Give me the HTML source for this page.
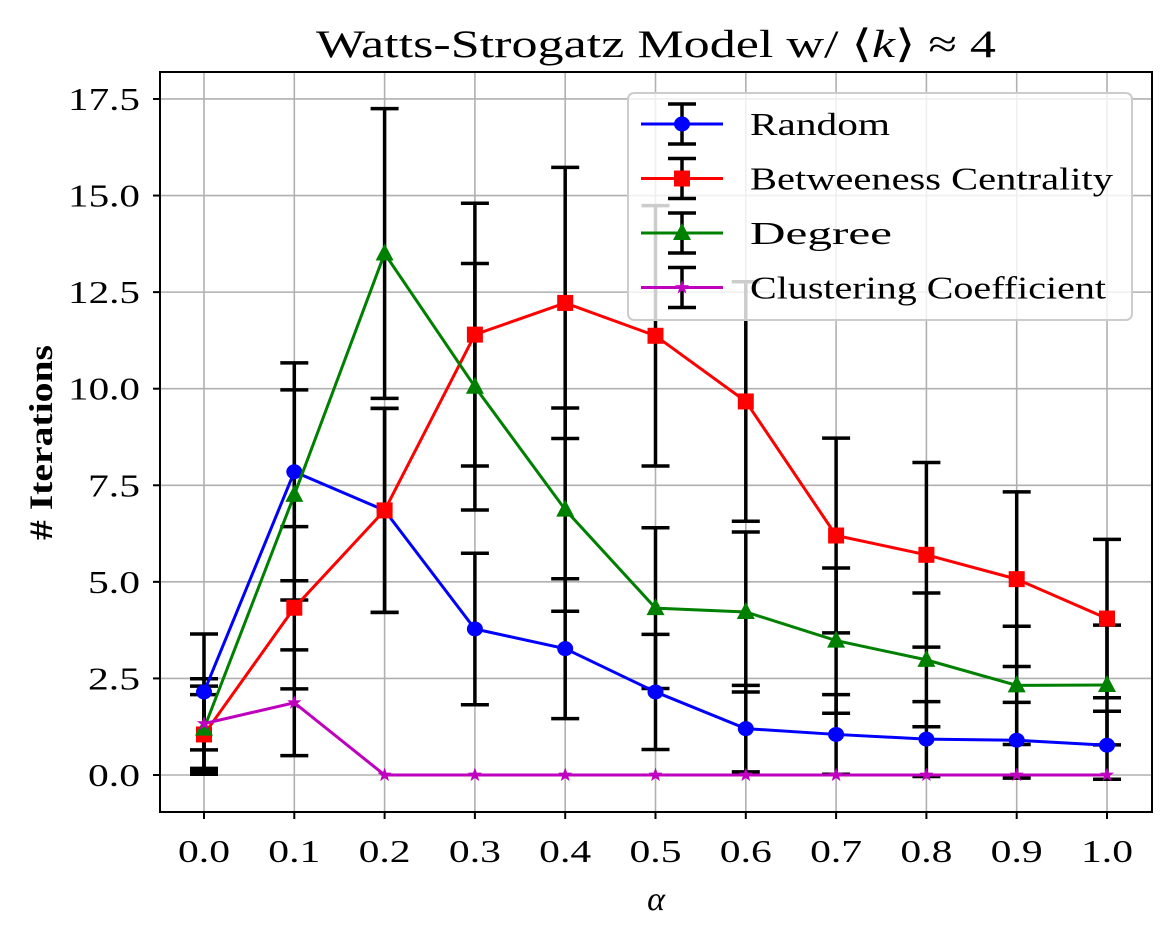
<!DOCTYPE html>
<html><head><meta charset="utf-8"><style>
body{margin:0;background:#fff}
svg text{font-family:"Liberation Serif",serif;fill:#000}
</style></head><body>
<svg id="chart" width="1171" height="937" xmlns="http://www.w3.org/2000/svg">
<g id="grid"></g>
<g id="series"></g>
<rect x="160" y="72" width="992" height="740" fill="none" stroke="#000" stroke-width="2"/>
<g id="ticks"></g>
<text x="316" y="57" font-size="39" textLength="680" lengthAdjust="spacingAndGlyphs">Watts-Strogatz Model w/ ⟨<tspan font-style="italic">k</tspan>⟩ ≈ 4</text>
<text x="656" y="910" font-size="34" font-style="italic" text-anchor="middle">α</text>
<text transform="translate(52,540) rotate(-90)" font-size="33" font-weight="bold" textLength="195" lengthAdjust="spacingAndGlyphs"># Iterations</text>
<g id="legend"></g>
</svg>
<script>
const xs=[0,0.1,0.2,0.3,0.4,0.5,0.6,0.7,0.8,0.9,1.0];
const xTicks=["0.0","0.1","0.2","0.3","0.4","0.5","0.6","0.7","0.8","0.9","1.0"];
const yTicks=[0,2.5,5,7.5,10,12.5,15,17.5];
const yTickLabels=["0.0","2.5","5.0","7.5","10.0","12.5","15.0","17.5"];
const seriesNames=["Random","Betweeness Centrality","Degree","Clustering Coefficient"];
const randomVals=[2.15,7.85,6.85,3.78,3.27,2.15,1.2,1.05,0.93,0.9,0.77];
const randomErr=[1.5,2.82,2.64,1.96,1.81,1.49,1.12,1.03,0.97,0.98,0.88];
const betwVals=[1.05,4.33,6.85,11.4,12.22,11.37,9.67,6.2,5.7,5.07,4.05];
const betwErr=[1.03,2.1,2.64,3.4,3.51,3.37,3.1,2.52,2.39,2.26,2.05];
const degVals=[1.2,7.25,13.5,10.05,6.87,4.32,4.22,3.48,2.98,2.32,2.33];
const degErr=[1.1,2.72,3.75,3.19,2.63,2.08,2.07,1.88,1.73,1.53,1.55];
const clusVals=[1.33,1.87,0,0,0,0,0,0,0,0,0];
const clusErr=[1.16,1.37,0,0,0,0,0,0,0,0,0];

const NS="http://www.w3.org/2000/svg";
const X=v=>204+v*903;
const Y=v=>775-v*38.63;
function mk(tag,attrs,parent){const e=document.createElementNS(NS,tag);for(const k in attrs)e.setAttribute(k,attrs[k]);parent.appendChild(e);return e;}
const grid=document.getElementById('grid'),ticks=document.getElementById('ticks'),ser=document.getElementById('series'),leg=document.getElementById('legend');
xs.forEach((v,i)=>{
  const g=mk('line',{x1:X(v),x2:X(v),y1:72,y2:812,stroke:'#b0b0b0','stroke-width':1.6},grid);
  
  
  const t=mk('line',{x1:X(v),x2:X(v),y1:812,y2:819,stroke:'#000','stroke-width':2},ticks);
  
  
  const l=mk('text',{x:X(v)-26,y:862,'font-size':32,textLength:52,lengthAdjust:'spacingAndGlyphs'},ticks);l.textContent=xTicks[i];
  
  
});
yTicks.forEach((v,i)=>{
  const g=mk('line',{x1:160,x2:1152,y1:Y(v),y2:Y(v),stroke:'#b0b0b0','stroke-width':1.6},grid);
  
  
  const t=mk('line',{x1:153,x2:160,y1:Y(v),y2:Y(v),stroke:'#000','stroke-width':2},ticks);
  
  
  const w=yTickLabels[i].length>3?72:52;
  const l=mk('text',{x:140-w,y:Y(v)+11,'font-size':32,textLength:w,lengthAdjust:'spacingAndGlyphs'},ticks);l.textContent=yTickLabels[i];
  
  
});
function marker(type,cx,cy,color,parent,s){
  s=s||1;let e;
  if(type==='o')e=mk('ellipse',{cx:cx,cy:cy,rx:8*s,ry:7.5*s,fill:color},parent);
  else if(type==='s')e=mk('rect',{x:cx-8*s,y:cy-8*s,width:16*s,height:16*s,fill:color},parent);
  else if(type==='^')e=mk('polygon',{points:`${cx},${cy-10*s} ${cx+9*s},${cy+7*s} ${cx-9*s},${cy+7*s}`,fill:color},parent);
  else{let p=[];for(let k=0;k<10;k++){const r=k%2?3*s:7.5*s,a=-Math.PI/2+k*Math.PI/5;p.push((cx+r*Math.cos(a)).toFixed(1)+','+(cy+r*Math.sin(a)).toFixed(1));}
    e=mk('polygon',{points:p.join(' '),fill:color},parent);}
  return e;
}
const all=[[randomVals,randomErr,'#0000ff','o','random'],[betwVals,betwErr,'#ff0000','s','betweenness'],[degVals,degErr,'#008000','^','degree'],[clusVals,clusErr,'#bf00bf','*','clustering']];
all.forEach(([vals,err,c,m,n])=>{
  const g=mk('g',{},ser);
  
  
  vals.forEach((v,i)=>{
    if(err[i]>0){
      const x=X(xs[i]),t=Y(v+err[i]),b=Y(v-err[i]);
      const eb=mk('path',{d:`M${x},${t}V${b}M${x-14},${t}H${x+14}M${x-14},${b}H${x+14}`,stroke:'#000','stroke-width':3.5,fill:'none'},g);
      
      
    }
  });
});
all.forEach(([vals,err,c,m,n])=>{
  const g=mk('g',{},ser);
  const pl=mk('polyline',{points:vals.map((v,i)=>X(xs[i])+','+Y(v)).join(' '),stroke:c,'stroke-width':3,fill:'none'},g);
  
  
  vals.forEach((v,i)=>{const mm=marker(m,X(xs[i]),Y(v),c,g);
    
    });
});
const box=mk('rect',{x:628,y:93,width:504,height:227,rx:6,fill:'#fff','fill-opacity':0.8,stroke:'#cccccc','stroke-width':2},leg);


const legendWidths=[140,363,142,356];
all.forEach(([vals,err,c,m,n],i)=>{
  const y=124+i*54.5;
  const g=mk('g',{},leg);
  
  
  mk('path',{d:`M682,${y-20}V${y+20}M668,${y-20}H696M668,${y+20}H696`,stroke:'#000','stroke-width':3.5},g);
  mk('line',{x1:641,x2:723,y1:y,y2:y,stroke:c,'stroke-width':3},g);
  marker(m,682,y,c,g);
  const t=mk('text',{x:750,y:y+11,'font-size':32,textLength:legendWidths[i],lengthAdjust:'spacingAndGlyphs'},g);t.textContent=seriesNames[i];
});
</script>
</body></html>
